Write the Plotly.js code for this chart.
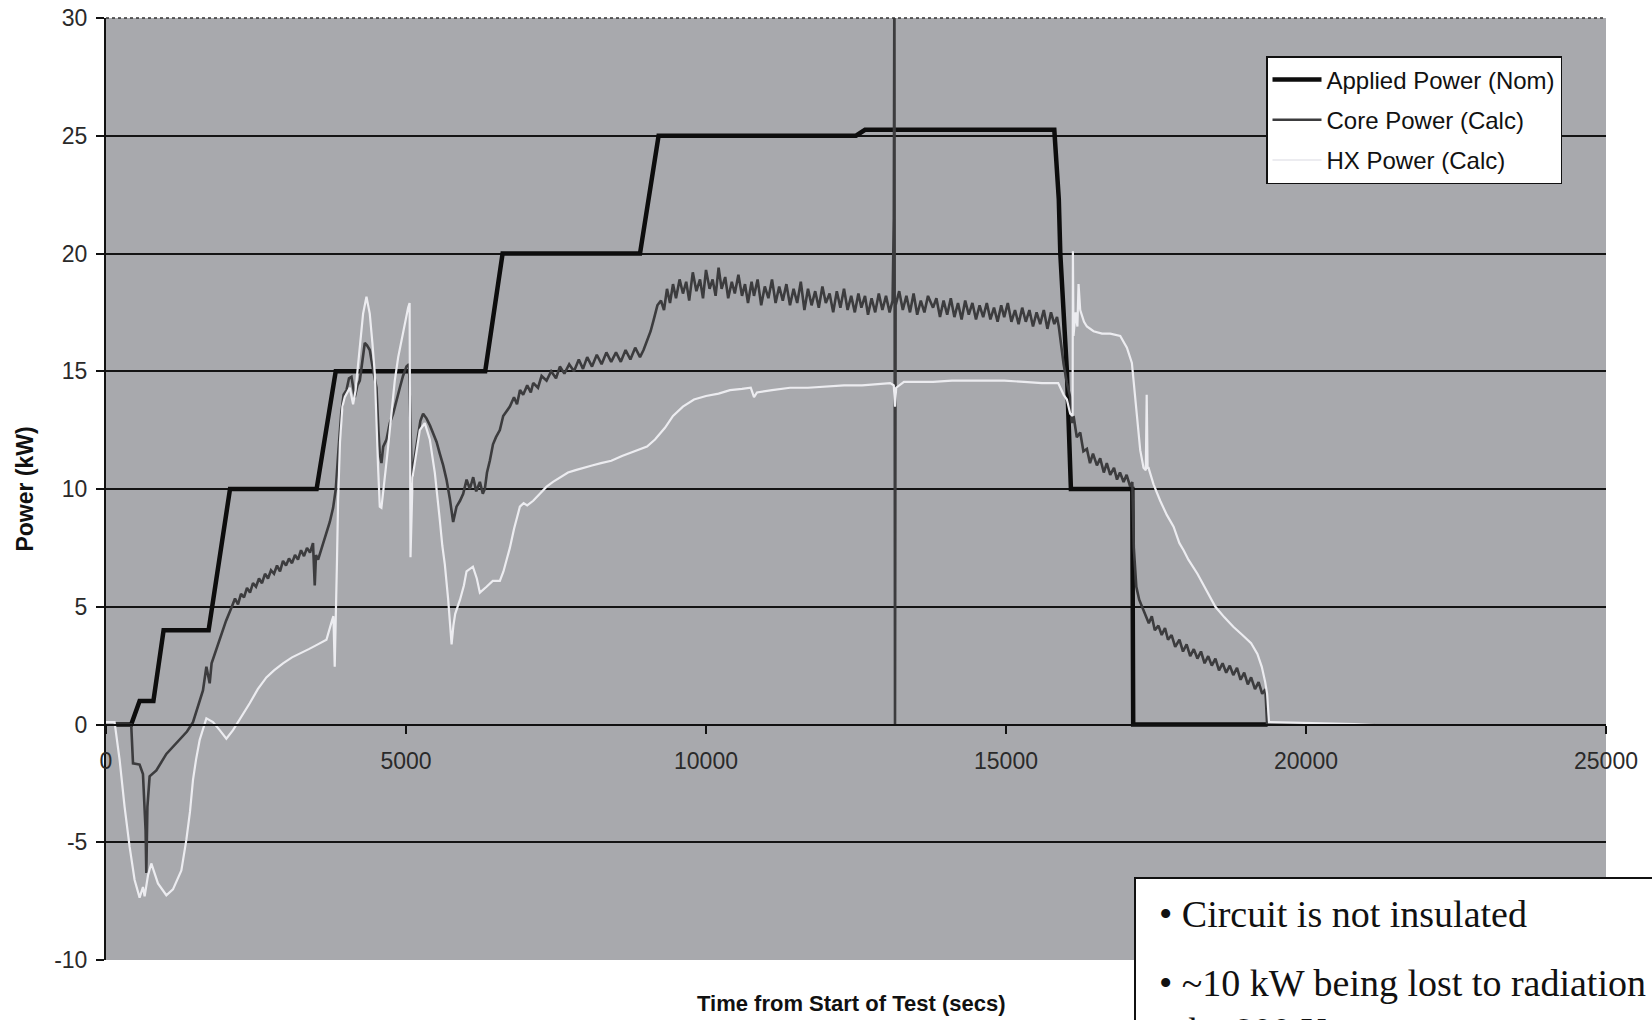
<!DOCTYPE html>
<html><head><meta charset="utf-8">
<script src="https://cdn.plot.ly/plotly-3.0.1.min.js"></script>
<style>html,body{margin:0;padding:0;background:#fff;} #chart{width:1652px;height:1020px;}</style>
</head><body><div id="chart"></div>
<script>
// ---------- data ----------
const seriesNames = ['Applied Power (Nom)', 'Core Power (Calc)', 'HX Power (Calc)'];

const appliedTime  = [140, 420, 560, 790, 960, 1710, 2067, 3510, 3829, 6320, 6610, 8900, 9210, 12500, 12650, 15805, 15880, 15905, 16015, 16082, 17105, 17120, 19360];
const appliedPower = [0,   0,   1,   1,   4,   4,    10,   10,   15,   15,   20,   20,   25,   25,    25.25, 25.25, 22.3,  20,    15,    10,    10,    0,     0];

const coreTime = [140, 420, 450, 560, 616, 660, 672, 690, 727, 839, 1006, 1227, 1350, 1450, 1540, 1616, 1673, 1728, 1760, 1811, 1895, 1950, 2000, 2097,
  2150, 2200, 2250, 2300, 2350, 2400, 2450, 2500, 2550, 2600, 2650, 2700, 2750, 2800, 2850, 2900, 2950, 3000, 3050, 3100, 3150, 3200, 3250, 3300, 3350, 3400, 3450, 3479, 3500, 3535, 3600, 3674, 3730, 3785, 3830, 3870, 3920, 3960,
  4008, 4050, 4091, 4146, 4190, 4230, 4270, 4313, 4350, 4396, 4452, 4508, 4540, 4563, 4591, 4620, 4675, 4730, 4786, 4840, 4897, 4950, 5008, 5050, 5080, 5100, 5119, 5160, 5202, 5240, 5285, 5341, 5400, 5452, 5510, 5563, 5620, 5675, 5730, 5786, 5842, 5900, 5953,
  6010, 6064, 6120, 6170, 6231, 6280, 6314, 6350, 6397, 6450, 6500, 6564, 6620, 6680, 6731, 6800, 6850, 6900, 6953, 7020, 7080, 7120, 7200, 7260, 7343, 7420, 7500, 7565, 7640, 7720, 7800, 7880, 7950,
  8020, 8100, 8180, 8260, 8340, 8420, 8500, 8580, 8660, 8740, 8820, 8900, 8959, 9020, 9077, 9130, 9190, 9250, 9300, 9350, 9400, 9450, 9500, 9560, 9616, 9670, 9720, 9780, 9840, 9900, 9950,
  10000, 10060, 10110, 10160, 10210, 10260, 10320, 10370, 10430, 10480, 10540, 10600, 10650, 10700, 10760, 10800, 10860, 10920, 10980,
  11040, 11100, 11160, 11220, 11280, 11340, 11400, 11460, 11520, 11580, 11640, 11700, 11760, 11820, 11880, 11940, 11997,
  12060, 12120, 12180, 12240, 12300, 12360, 12420, 12480, 12540, 12590, 12650, 12700, 12760, 12820, 12880, 12940,
  13000, 13060, 13110, 13130, 13140, 13150, 13160, 13220, 13280, 13340, 13400, 13460, 13520, 13580, 13640, 13700, 13784, 13840, 13900, 13960,
  14020, 14080, 14140, 14200, 14260, 14320, 14380, 14440, 14500, 14560, 14620, 14680, 14740, 14800, 14860, 14920, 14970,
  15030, 15090, 15150, 15210, 15270, 15330, 15390, 15450, 15510, 15570, 15630, 15690, 15750, 15805, 15850, 15880, 15920, 15960,
  16015, 16070, 16100, 16126, 16180, 16237, 16290, 16348, 16400, 16450, 16515, 16570, 16630, 16680, 16737, 16800, 16850, 16900, 16960,
  17010, 17070, 17105, 17130, 17172, 17220, 17268, 17320, 17380, 17430, 17480, 17540, 17595, 17650, 17700, 17760, 17820, 17890, 17950,
  18010, 18070, 18130, 18190, 18250, 18310, 18370, 18430, 18490, 18550, 18610, 18670, 18730, 18788, 18850, 18910, 18970,
  19030, 19085, 19150, 19210, 19270, 19323, 19352, 21150];
const corePower = [0, 0, -1.65, -1.7, -2.1, -4.5, -6.3, -3.5, -2.2, -1.95, -1.25, -0.65, -0.3, 0.1, 0.8, 1.45, 2.45, 1.75, 2.6, 3.0, 3.6, 4.1, 4.4, 5.0,
  5.35, 5.1, 5.55, 5.4, 5.8, 5.6, 6.0, 5.85, 6.2, 6.0, 6.4, 6.2, 6.55, 6.4, 6.75, 6.5, 6.95, 6.75, 7.05, 6.85, 7.2, 7.0, 7.4, 7.15, 7.5, 7.3, 7.7, 5.9, 7.2, 7.0, 7.5, 8.1, 8.6, 9.2, 10.0, 11.5, 13.2, 14.0,
  14.2, 14.7, 14.76, 13.9, 14.4, 14.6, 15.5, 16.2, 16.1, 15.9, 15.05, 14.3, 12.5, 11.5, 11.1, 11.8, 12.1, 12.8, 13.2, 13.8, 14.3, 14.8, 15.2, 15.3, 12.5, 10.0, 10.9, 11.6, 12.2, 12.9, 13.2, 13.0, 12.7, 12.4, 12.0, 11.5, 11.0, 10.4, 9.6, 8.6, 9.25, 9.5, 9.8,
  10.4, 10.0, 10.5, 9.9, 10.3, 9.8, 10.0, 10.7, 11.2, 11.9, 12.2, 12.5, 13.1, 13.3, 13.5, 13.9, 13.6, 14.2, 14.0, 14.4, 14.1, 14.5, 14.3, 14.8, 14.6, 15.0, 14.7, 15.2, 14.9, 15.3, 15.0, 15.5, 15.1,
  15.6, 15.2, 15.7, 15.3, 15.8, 15.4, 15.8, 15.4, 15.9, 15.5, 16.0, 15.6, 15.9, 16.3, 16.7, 17.2, 17.8, 18.0, 17.6, 18.5, 17.9, 18.7, 18.1, 18.9, 18.3, 18.8, 18.0, 19.2, 18.4, 18.9, 18.1,
  19.3, 18.5, 18.9, 18.2, 19.4, 18.5, 19.0, 18.1, 18.8, 18.3, 19.1, 18.2, 18.7, 17.9, 18.8, 18.2, 18.9, 17.8, 18.6,
  18.1, 18.9, 17.9, 18.6, 18.0, 18.7, 17.8, 18.5, 17.9, 18.8, 17.6, 18.5, 17.8, 18.4, 17.7, 18.6, 17.9,
  18.3, 17.5, 18.4, 17.7, 18.5, 17.6, 18.2, 17.5, 18.3, 17.7, 18.2, 17.4, 18.1, 17.5, 18.3, 17.6,
  18.2, 17.5, 18.0, 21.5, 32, 0, 17.8, 18.4, 17.6, 18.2, 17.5, 18.3, 17.4, 18.0, 17.5, 18.2, 17.7, 18.1, 17.3, 18.0,
  17.4, 18.1, 17.3, 17.9, 17.2, 18.0, 17.4, 17.9, 17.2, 17.8, 17.3, 17.9, 17.2, 17.7, 17.1, 17.8, 17.3,
  17.9, 17.1, 17.6, 17.0, 17.7, 17.1, 17.6, 16.9, 17.5, 17.0, 17.6, 16.8, 17.5, 17.0, 17.3, 16.9, 16.0, 15.3,
  14.5, 13.9, 12.8, 13.1, 12.2, 12.4, 11.6, 11.7, 11.1, 11.5, 11.0, 11.3, 10.7, 11.1, 10.6, 10.9, 10.4, 10.7, 10.3,
  10.6, 10.1, 10.3, 7.5, 5.85, 5.3, 5.0, 4.6, 4.3, 4.6, 4.0, 4.2, 3.8, 4.1, 3.6, 3.8, 3.3, 3.6, 3.1,
  3.4, 2.9, 3.2, 2.8, 3.1, 2.6, 2.9, 2.5, 2.8, 2.3, 2.6, 2.2, 2.5, 2.1, 2.4, 1.9, 2.2,
  1.7, 2.0, 1.5, 1.8, 1.3, 1.5, 0, 0];

const hxTime = [0, 143, 227, 310, 394, 477, 560, 616, 644, 700, 755, 810, 866, 1006, 1116, 1256, 1339, 1400, 1450, 1500, 1561, 1673, 1783, 1895, 2006, 2117, 2228, 2395, 2530, 2673, 2800, 2950, 3100, 3229, 3380, 3507, 3674, 3765, 3790, 3812, 3830, 3850, 3868, 3900, 3940, 3979,
  4063, 4118, 4160, 4202, 4285, 4341, 4396, 4440, 4480, 4535, 4563, 4590, 4619, 4660, 4702, 4760, 4813, 4870, 4925, 4980, 5035, 5060, 5075, 5110, 5147, 5190, 5230, 5313, 5397, 5480, 5520, 5563, 5605, 5647, 5703, 5740, 5760, 5790, 5820, 5900, 5965,
  6009, 6115, 6180, 6231, 6342, 6446, 6564, 6624, 6731, 6800, 6898, 6960, 7020, 7120, 7231, 7343, 7450, 7565, 7700, 7827, 7950, 8100, 8250, 8422, 8600, 8800, 9017, 9150, 9316, 9450, 9615, 9800,
  10000, 10210, 10400, 10600, 10746, 10800, 10850, 11100, 11400, 11700, 11997, 12300, 12600, 12900, 13070, 13130, 13150, 13170, 13300, 13500, 13784, 14100, 14400, 14700, 14970, 15300, 15600, 15870, 15904, 15960,
  16015, 16070, 16110, 16115, 16125, 16160, 16190, 16209, 16237, 16300, 16348, 16459, 16600, 16737, 16904, 17015, 17098, 17126, 17181, 17237, 17292, 17330, 17345, 17360, 17376, 17459, 17570, 17680, 17793, 17890, 17960,
  18040, 18190, 18340, 18490, 18640, 18788, 18940, 19085, 19190, 19263, 19320, 19352, 19383, 21150];
const hxPower = [0.1, 0.1, -1.5, -3.5, -5.2, -6.6, -7.35, -6.9, -7.3, -6.4, -5.9, -6.3, -6.75, -7.25, -7.0, -6.2, -4.9, -3.7, -2.35, -1.5, -0.66, 0.26, 0.1, -0.24, -0.6, -0.24, 0.2, 0.9, 1.5, 2.0, 2.3, 2.6, 2.85, 3.0, 3.2, 3.37, 3.6, 4.4, 4.6, 2.45, 5.4, 7.0, 9.5, 12.0, 13.5, 13.9,
  14.3, 13.6, 14.2, 15.35, 17.45, 18.16, 17.45, 16.2, 14.9, 10.9, 9.25, 9.2, 9.8, 10.8, 11.8, 13.3, 14.6, 15.6, 16.3, 17.1, 17.7, 17.9, 7.1, 10.5, 11.1, 11.9, 12.5, 12.8, 12.1, 10.7, 9.8, 8.7, 7.6, 6.8, 5.3, 4.0, 3.4, 4.2, 4.7, 5.3, 5.9,
  6.5, 6.7, 6.2, 5.6, 5.85, 6.1, 6.1, 6.5, 7.5, 8.3, 9.25, 9.4, 9.3, 9.5, 9.8, 10.1, 10.3, 10.5, 10.7, 10.8, 10.9, 11.0, 11.1, 11.2, 11.4, 11.6, 11.8, 12.1, 12.6, 13.1, 13.5, 13.8,
  13.95, 14.05, 14.2, 14.25, 14.3, 13.9, 14.1, 14.2, 14.3, 14.3, 14.35, 14.4, 14.4, 14.45, 14.5, 14.4, 13.5, 14.3, 14.55, 14.55, 14.55, 14.6, 14.6, 14.6, 14.6, 14.55, 14.5, 14.5, 14.3, 14.0,
  13.8, 13.2, 13.1, 20.1, 16.5, 17.5, 16.9, 18.7, 17.6, 17.1, 16.9, 16.7, 16.6, 16.6, 16.5, 16.0, 15.35, 14.6, 13.07, 11.65, 10.9, 10.8, 14.0, 10.9, 10.9, 10.2, 9.5, 8.9, 8.4, 7.7, 7.4,
  7.0, 6.4, 5.7, 5.0, 4.55, 4.15, 3.8, 3.45, 3.0, 2.45, 1.8, 1.3, 0.1, 0];

const yTickValues = [-10, -5, 0, 5, 10, 15, 20, 25, 30];
const yTickLabels = ['-10', '-5', '0', '5', '10', '15', '20', '25', '30'];
const xTickValues = [0, 5000, 10000, 15000, 20000, 25000];
const xTickLabels = ['0', '5000', '10000', '15000', '20000', '25000'];
const xTitle = 'Time from Start of Test (secs)';
const yTitle = 'Power (kW)';
const noteLines = ['\u2022 Circuit is not insulated', '\u2022 ~10 kW being lost to radiation', 'the 800 K test'];

// ---------- chart ----------
const sans = 'Liberation Sans, Arial, sans-serif';
const serif = 'Liberation Serif, Times New Roman, serif';

const traces = [
  {x: appliedTime, y: appliedPower, name: seriesNames[0], type: 'scatter', mode: 'lines', legendgroup: 'a',
   line: {color: '#0d0d0d', width: 4.5}},
  {x: coreTime, y: corePower, name: seriesNames[1], type: 'scatter', mode: 'lines', legendgroup: 'c',
   line: {color: '#3c3c3e', width: 2.6}},
  {x: hxTime, y: hxPower, name: seriesNames[2], type: 'scatter', mode: 'lines', legendgroup: 'h',
   line: {color: '#ececf0', width: 2.2}}
];

const W = 1652, H = 1020, mL = 106, mR = 46, mT = 18, mB = 60;
const pw = W - mL - mR, ph = H - mT - mB;
const px = v => (v - mL) / pw;
const py = v => (H - mB - v) / ph;

const notes = noteLines.map((t, i) => ({
  xref: 'paper', yref: 'paper', x: px(i === 2 ? 1176 : 1157), y: py([914, 983, 1031][i]),
  xanchor: 'left', yanchor: 'middle', showarrow: false, text: t,
  font: {family: serif, size: 38, color: '#111'}
}));

const layout = {
  width: W, height: H,
  margin: {l: mL, r: mR, t: mT, b: mB},
  paper_bgcolor: '#ffffff',
  plot_bgcolor: '#a8a9ad',
  showlegend: true,
  legend: {
    x: px(1266), y: py(56), xanchor: 'left', yanchor: 'top',
    bgcolor: '#ffffff', bordercolor: '#111', borderwidth: 1.5,
    font: {family: sans, size: 24, color: '#111'},
    traceorder: 'grouped', tracegroupgap: 6, itemwidth: 49
  },
  xaxis: {
    range: [0, 25000], anchor: 'free', position: 0.25,
    tickmode: 'array', tickvals: xTickValues, ticktext: xTickLabels,
    ticks: 'outside', ticklen: 8, tickwidth: 2, tickcolor: '#111',
    showgrid: false, zeroline: false,
    showline: true, linecolor: '#111', linewidth: 2,
    ticklabelstandoff: 8,
    tickfont: {family: sans, size: 23, color: '#2a2a2a'}
  },
  yaxis: {
    range: [-10, 30],
    tickmode: 'array', tickvals: yTickValues, ticktext: yTickLabels,
    ticks: 'outside', ticklen: 8, tickwidth: 2, tickcolor: '#111',
    showgrid: true, gridcolor: '#141414', gridwidth: 2, zeroline: false,
    showline: true, linecolor: '#111', linewidth: 2,
    ticklabelstandoff: 4,
    tickfont: {family: sans, size: 23, color: '#2a2a2a'},
    title: {text: '<b>' + yTitle + '</b>', font: {family: sans, size: 23, color: '#111'}, standoff: 14}
  },
  shapes: [{
    type: 'line', xref: 'paper', yref: 'paper', x0: 0, x1: 1, y0: 1, y1: 1,
    line: {color: '#333', width: 1.5, dash: 'dot'}
  }, {
    type: 'rect', xref: 'paper', yref: 'paper', layer: 'above',
    x0: px(1135), x1: px(1665), y0: py(1035), y1: py(878),
    fillcolor: '#ffffff', line: {color: '#111', width: 2}
  }],
  annotations: [{
    xref: 'paper', yref: 'paper', x: px(851), y: py(1003), xanchor: 'center', yanchor: 'middle',
    showarrow: false, text: '<b>' + xTitle + '</b>', font: {family: sans, size: 22, color: '#111'}
  }].concat(notes)
};

Plotly.newPlot('chart', traces, layout, {displayModeBar: false, staticPlot: true});
</script>
</body></html>
